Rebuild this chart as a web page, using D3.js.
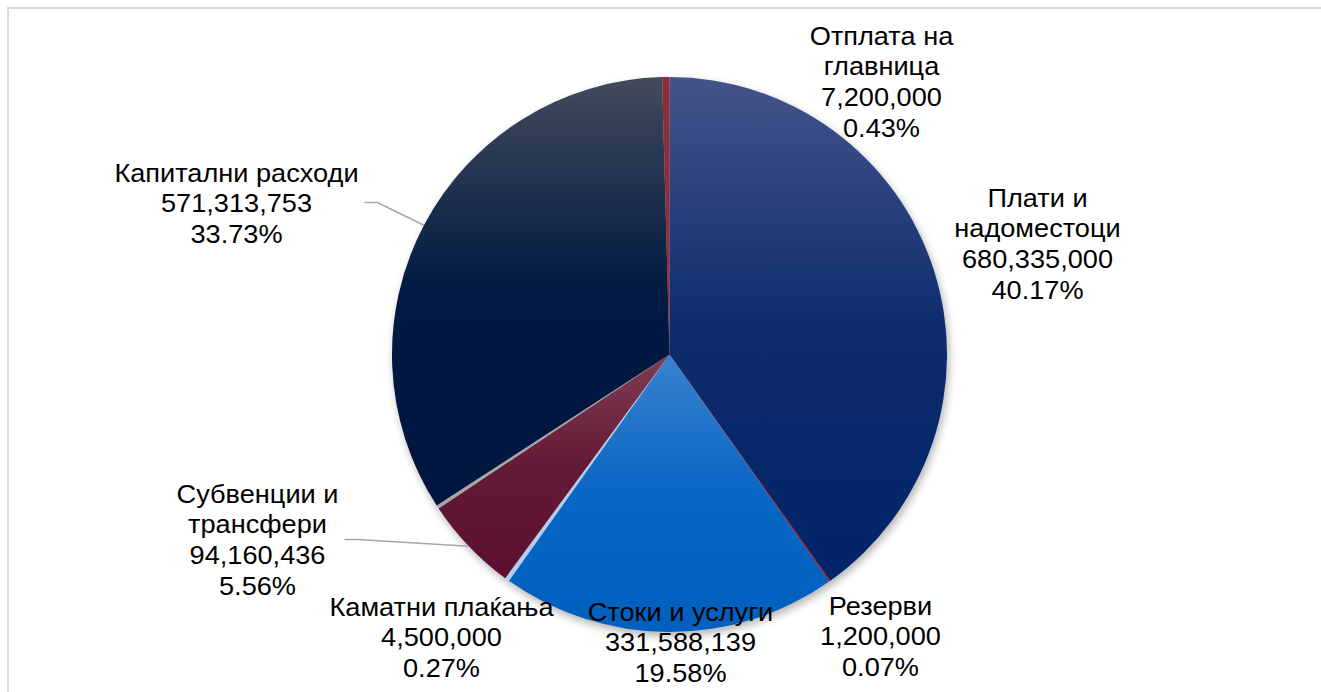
<!DOCTYPE html>
<html lang="mk">
<meta charset="utf-8">
<head>
  <title>Буџет по категории</title>
  <style>
  body { margin: 0; background: #fff; }
  .label text {
    font-family: "Liberation Sans", Arial, sans-serif;
    font-size: 26px;
    fill: #000;
  }
  .leader {
    fill: none;
    stroke: #a6a6a6;
    stroke-width: 1.5px;
  }
  </style>
</head>
<body>
<svg width="1321" height="692"></svg>
<script src="https://cdn.jsdelivr.net/npm/d3@7"></script>
<script>

// slices, clockwise from 12 o'clock
var categories = ["Плати и\nнадоместоци", "Резерви", "Стоки и услуги", "Каматни плаќања",
                  "Субвенции и\nтрансфери", "", "Капитални расходи", "Отплата на\nглавница"];
var values = [680335000, 1200000, 331588139, 4500000, 94160436, 3400000, 571313753, 7200000];

// top / middle / bottom gradient colours of each slice
var colorsTop = ["#44548a", "#c00000", "#3a82cf", "#b4cdee", "#7e3e54", "#a6a6a6", "#434a5c", "#8c2f3c"];
var colorsMid = ["#0e2c6e", "#c00000", "#0866c4", "#b4cdee", "#641a36", "#a6a6a6", "#001a42", "#8c2f3c"];
var colorsBottom = ["#002468", "#c00000", "#0060bf", "#b4cdee", "#5c1030", "#a6a6a6", "#001640", "#8c2f3c"];

var svg = d3.select("svg"),
    cx = 669.5, cy = 354.5, radius = 277.5;

// chart frame
svg.append("rect")
    .attr("x", 8).attr("y", 8)
    .attr("width", 1400).attr("height", 800)
    .attr("fill", "none")
    .attr("stroke", "#d9d9d9")
    .attr("stroke-width", 2);

var defs = svg.append("defs");

defs.append("filter")
    .attr("id", "blur")
    .attr("x", "-20%").attr("y", "-20%")
    .attr("width", "140%").attr("height", "140%")
  .append("feGaussianBlur")
    .attr("stdDeviation", 4);

values.forEach(function(v, i) {
  var grad = defs.append("linearGradient")
      .attr("id", "grad" + i)
      .attr("x1", 0).attr("y1", 0).attr("x2", 0).attr("y2", 1);
  grad.append("stop").attr("offset", "0%").attr("stop-color", colorsTop[i]);
  grad.append("stop").attr("offset", "50%").attr("stop-color", colorsMid[i]);
  grad.append("stop").attr("offset", "100%").attr("stop-color", colorsBottom[i]);
});

var total = d3.sum(values);
var fmtNum = d3.format(",");
var fmtPct = d3.format(".2%");

var pie = d3.pie().sort(null).value(function(d) { return d; });
var arc = d3.arc().innerRadius(0).outerRadius(radius);
var arcs = pie(values);

var g = svg.append("g")
    .attr("transform", "translate(" + cx + "," + cy + ")");

// soft shadow under the pie
g.append("circle")
    .attr("cx", 2).attr("cy", 4)
    .attr("r", radius)
    .attr("fill", "#000")
    .attr("opacity", 0.3)
    .attr("filter", "url(#blur)");

g.append("g")
  .selectAll("path")
  .data(arcs)
  .enter().append("path")
    .attr("d", arc)
    .attr("fill", function(d, i) { return "url(#grad" + i + ")"; });

// label anchors relative to pie centre (centre x, first baseline)
var labelPos = [
  [368, -148], [211, 260], [11, 266], [-228, 261],
  [-412, 148], null, [-433, -173], [212, -310]
];

var labels = g.selectAll(".label")
  .data(arcs.filter(function(d, i) { return labelPos[i]; }))
  .enter().append("g")
    .attr("class", "label")
    .attr("transform", function(d) {
      var p = labelPos[d.index];
      return "translate(" + p[0] + "," + p[1] + ") scale(1.045,1)";
    });

labels.append("text")
    .attr("text-anchor", "middle")
    .selectAll("tspan")
    .data(function(d) {
      return categories[d.index].split("\n")
        .concat([fmtNum(d.value), fmtPct(d.value / total)]);
    })
    .enter().append("tspan")
      .attr("x", 0)
      .attr("y", function(d, i) { return i * 31; })
      .text(function(d) { return d; });

// leader lines for the two labels pulled away from their slices
var leaders = [
  {i: 6, from: [-305, -152], bend: [-292, -152]},
  {i: 4, from: [-325, 185], bend: [-312, 185]}
];

g.selectAll(".leader")
  .data(leaders)
  .enter().append("polyline")
    .attr("class", "leader")
    .attr("points", function(d) {
      var a = arcs[d.i];
      var mid = (a.startAngle + a.endAngle) / 2;
      var end = [Math.sin(mid) * radius, -Math.cos(mid) * radius];
      return [d.from, d.bend, end].map(function(p) { return p.join(","); }).join(" ");
    });

</script>
</body>
</html>
